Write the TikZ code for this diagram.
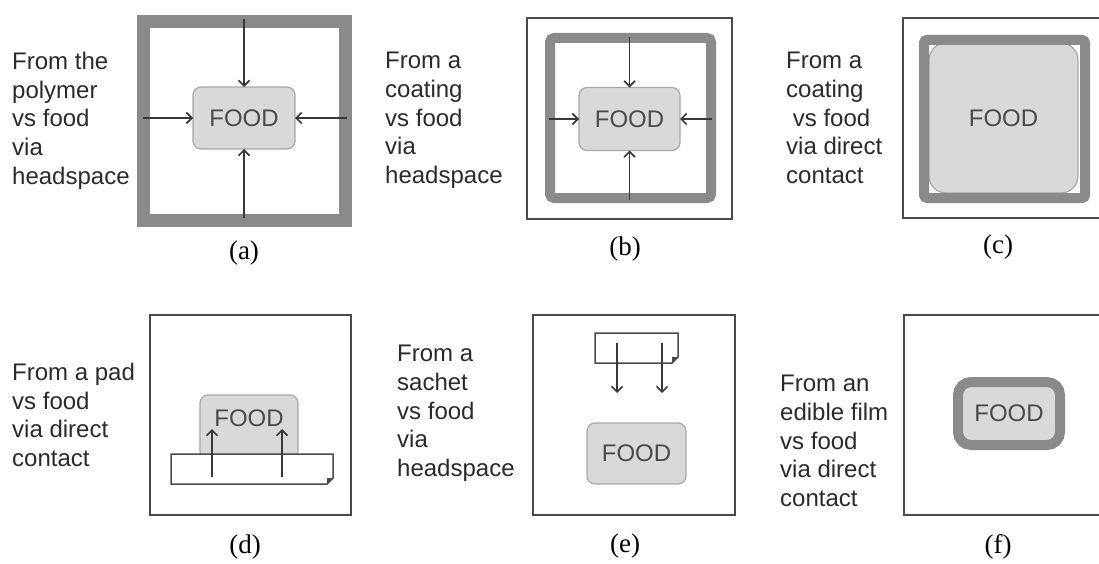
\documentclass[tikz,border=0pt]{standalone}
\usepackage{fontspec}
\setmainfont{Liberation Serif}
\setsansfont{Liberation Sans}
\usetikzlibrary{arrows.meta}
\definecolor{frameg}{HTML}{8A8A8A}
\definecolor{foodfill}{HTML}{D9D9D9}
\definecolor{foodline}{HTML}{A8A8A8}
\definecolor{foodtext}{HTML}{4A4A4A}
\definecolor{boxline}{HTML}{4A4A4A}
\definecolor{arrowc}{HTML}{383838}
\definecolor{labelc}{HTML}{2A2A2A}
\begin{document}
\begin{tikzpicture}[x=1pt,y=-1pt,
  foodbox/.style={draw=foodline, fill=foodfill, line width=1.2pt, rounded corners=8pt,
    inner sep=0pt, outer sep=0pt, font=\sffamily\fontsize{24}{24}\selectfont, text=foodtext},
  foodlbl/.style={inner sep=0pt, font=\sffamily\fontsize{24}{24}\selectfont, text=foodtext},
  thickframe/.style={draw=frameg},
  thinframe/.style={draw=boxline, line width=2pt},
  padline/.style={draw=boxline, line width=1.5pt, fill=white},
  arr/.style={draw=arrowc, line width=1.8pt, -{Straight Barb[length=5.5pt,width=11pt,line width=1.6pt]}},
  lbl/.style={align=left, anchor=north west, inner sep=0pt, text=labelc,
    font=\sffamily\fontsize{24}{28.7}\selectfont},
  captxt/.style={inner sep=0pt, font=\fontsize{27}{27}\selectfont, text=black}
]
\useasboundingbox (0,0) rectangle (1099,564);

% ---------- (a) ----------
\node[lbl] (la) at (12,52) {From the\\polymer\\vs food\\via\\headspace};
\draw[thickframe, line width=13pt] (143.5,21.5) rectangle (345.5,220.5);
\node[foodbox, minimum width=102, minimum height=62] (foodA) at (244,118) {FOOD};
\coordinate (aT) at (244,19);
\coordinate (aB) at (244,218);
\coordinate (aL) at (143,118);
\coordinate (aR) at (347,118);
\draw[arr] (aT) -- (foodA.north);
\draw[arr] (aB) -- (foodA.south);
\draw[arr] (aL) -- (foodA.west);
\draw[arr] (aR) -- (foodA.east);
\node[captxt] (ca) at (244,253) {(a)};

% ---------- (b) ----------
\node[lbl] (lb) at (385,52) {From a\\coating\\vs food\\via\\headspace};
\draw[thinframe] (527,18) rectangle (732,219);
\draw[thickframe, line width=10pt, rounded corners=4pt] (550,38) rectangle (711,198);
\node[foodbox, minimum width=101, minimum height=63] (foodB) at (629.5,119) {FOOD};
\coordinate (bT) at (629.5,37);
\coordinate (bB) at (629.5,200);
\coordinate (bL) at (549,119);
\coordinate (bR) at (712,119);
\draw[arr] (bT) -- (foodB.north);
\draw[arr] (bB) -- (foodB.south);
\draw[arr] (bL) -- (foodB.west);
\draw[arr] (bR) -- (foodB.east);
\node[captxt] (cb) at (625,249) {(b)};

% ---------- (c) ----------
\node[lbl] (lc) at (786,52) {From a\\coating\\\ vs food\\via direct\\contact};
\draw[thinframe] (903,18) rectangle (1103,218);
\node[foodbox, minimum width=149, minimum height=150, rounded corners=17pt] (foodC) at (1003.5,118) {FOOD};
\draw[thickframe, line width=10pt, rounded corners=3pt] (924,40) rectangle (1085,198);
\node[captxt] (cc) at (998,247) {(c)};

% ---------- (d) ----------
\node[lbl] (ld) at (12,363) {From a pad\\vs food\\via direct\\contact};
\draw[thinframe] (150,315) rectangle (351,515);
\node[foodbox, minimum width=98, minimum height=64] (foodD) at (249,427) {};
\draw[padline] (171,454) -- (333,454) -- (333,478) -- (327,484) -- (171,484) -- cycle;
\fill[boxline] (333,478) -- (327,484) -- (327,478) -- cycle;
\node[foodlbl] (foodDt) at (249,418) {FOOD};
\coordinate (d1s) at (212,477);
\coordinate (d1e) at (212,429);
\coordinate (d2s) at (282,477);
\coordinate (d2e) at (282,429);
\draw[arr] (d1s) -- (d1e);
\draw[arr] (d2s) -- (d2e);
\node[captxt] (cd) at (245,547) {(d)};

% ---------- (e) ----------
\node[lbl] (le) at (397,345) {From a\\sachet\\vs food\\via\\headspace};
\draw[thinframe] (533,315) rectangle (735,515);
\draw[padline] (595,333) -- (678,333) -- (678,357) -- (672,363) -- (595,363) -- cycle;
\fill[boxline] (678,357) -- (672,363) -- (672,357) -- cycle;
\coordinate (e1s) at (617,343);
\coordinate (e1e) at (617,393);
\coordinate (e2s) at (662,343);
\coordinate (e2e) at (662,393);
\draw[arr] (e1s) -- (e1e);
\draw[arr] (e2s) -- (e2e);
\node[foodbox, minimum width=99, minimum height=61] (foodE) at (636.5,453.5) {FOOD};
\node[captxt] (ce) at (625,546) {(e)};

% ---------- (f) ----------
\node[lbl] (lf) at (780,375) {From an\\edible film\\vs food\\via direct\\contact};
\draw[thinframe] (904,315) rectangle (1103,515);
\node[foodbox, draw=frameg, line width=10pt, rounded corners=13pt, minimum width=102, minimum height=63] (foodF) at (1009,413.5) {FOOD};
\node[captxt] (cf) at (998,547) {(f)};
\end{tikzpicture}
\end{document}
